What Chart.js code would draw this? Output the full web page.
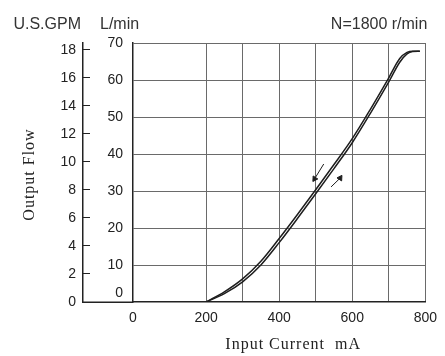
<!DOCTYPE html>
<html><head><meta charset="utf-8">
<script src="https://cdn.jsdelivr.net/npm/chart.js@4/dist/chart.umd.min.js"></script>
<style>html,body{margin:0;padding:0;background:#fff;}</style>
</head><body>
<canvas id="c" width="445" height="356"></canvas>
<script>
// ---- data ----
const currentMA      = [200, 250, 300, 350, 400, 450, 500, 550, 600, 650, 700, 730, 750, 765, 785];
const flowIncreasing = [0, 2.25, 5.45, 10.0, 16.05, 22.55, 29.25, 36.05, 43.05, 51.05, 59.5, 64.8, 67.05, 67.7, 67.8];
const flowDecreasing = [0, 2.75, 6.25, 11.0, 17.15, 23.65, 30.35, 37.15, 44.15, 52.15, 60.6, 65.8, 67.45, 67.8, 67.8];
const arrowDecX = [522, 497];
const arrowDecY = [37.3, 33.3];
const arrowIncX = [542, 567];
const arrowIncY = [31.1, 33.5];
const xLabelTicks = [0, 200, 400, 600, 800];
const xGridTicks  = [200, 300, 400, 500, 600, 700, 800];
const lpmTicks = [0, 10, 20, 30, 40, 50, 60, 70];
const gpmTicks = [0, 2, 4, 6, 8, 10, 12, 14, 16, 18];
const LPM_PER_GPM = 3.785;
const X_MIN = 0, X_MAX = 800, LPM_MAX = 70;

const pts = (xs, ys) => xs.map((x, i) => ({x, y: ys[i]}));
const AXIS = '#222', GRID = '#6a6a6a', INK = '#1e1e1e';
const sans = '"Liberation Sans", Arial, sans-serif';
const serif = '"Liberation Serif", "Times New Roman", serif';

const extras = {
  id: 'extras',
  afterDraw(chart) {
    const ctx = chart.ctx, g = chart.scales.yG, l = chart.scales.yL, xs = chart.scales.x, a = chart.chartArea;
    ctx.save();
    // extend the bottom axis under the GPM axis
    ctx.strokeStyle = AXIS; ctx.lineWidth = 1.5;
    ctx.beginPath(); ctx.moveTo(g.right, xs.top + 0.25); ctx.lineTo(a.left, xs.top + 0.25); ctx.stroke();
    // header texts
    ctx.fillStyle = '#333'; ctx.font = '16px ' + sans; ctx.textBaseline = 'middle';
    const hy = a.top - 18;
    ctx.textAlign = 'right'; ctx.fillText('U.S.GPM', g.right - 2, hy);
    ctx.textAlign = 'left';  ctx.fillText('L/min', l.left + 17, hy);
    ctx.textAlign = 'right'; ctx.fillText('N=1800 r/min', a.right + 2, hy);
    // axis titles (serif, slightly spaced like the reference)
    ctx.fillStyle = '#222'; ctx.font = '16px ' + serif; ctx.textAlign = 'center';
    try { ctx.letterSpacing = '1px'; } catch (e) {}
    ctx.fillText('Input Current  mA', (a.left + a.right) / 2 + 14, xs.bottom - 11);
    ctx.save();
    ctx.translate(30, (a.top + a.bottom) / 2 + 2);
    ctx.rotate(-Math.PI / 2);
    ctx.fillText('Output Flow', 0, 0);
    ctx.restore();
    ctx.restore();
  }
};

const lineDs = (data) => ({
  data, showLine: true, borderColor: INK, borderWidth: 1.5, pointRadius: 0,
  cubicInterpolationMode: 'monotone', fill: false, xAxisID: 'x', yAxisID: 'yL'
});
const arrowDs = (data, rot) => ({
  data, showLine: true, borderColor: INK, backgroundColor: INK, borderWidth: 1,
  pointRadius: [0, 3.2], pointStyle: 'triangle', rotation: rot, xAxisID: 'x', yAxisID: 'yL'
});

new Chart(document.getElementById('c'), {
  type: 'scatter',
  data: { datasets: [
    lineDs(pts(currentMA, flowIncreasing)),
    lineDs(pts(currentMA, flowDecreasing)),
    arrowDs(pts(arrowDecX, arrowDecY), 213),
    arrowDs(pts(arrowIncX, arrowIncY), 33)
  ]},
  options: {
    responsive: false, animation: false, devicePixelRatio: 1,
    layout: { padding: { top: 43, right: 17, bottom: 0, left: 0 } },
    plugins: { legend: { display: false }, tooltip: { enabled: false } },
    scales: {
      x: {
        type: 'linear', position: 'bottom', min: X_MIN, max: X_MAX,
        afterBuildTicks: s => { s.ticks = [...new Set([...xLabelTicks, ...xGridTicks])].sort((p, q) => p - q).map(v => ({value: v})); },
        afterFit: s => { s.height = 54; },
        ticks: { autoSkip: false, maxRotation: 0, padding: 8, color: '#222', font: { family: sans, size: 14 },
                 callback: v => xLabelTicks.includes(v) ? String(v) : '' },
        grid: { drawTicks: false, lineWidth: 1, color: c => (c.tick && xGridTicks.includes(c.tick.value)) ? GRID : 'rgba(0,0,0,0)' },
        border: { display: true, color: AXIS, width: 1.5 },
        title: { display: false }
      },
      yL: {
        type: 'linear', position: 'left', weight: 1, min: 0, max: LPM_MAX,
        afterBuildTicks: s => { s.ticks = lpmTicks.map(v => ({value: v})); },
        afterFit: s => { s.width = 50; },
        ticks: { autoSkip: false, padding: 10, color: '#222', font: { family: sans, size: 14 },
                 callback: v => v === 0 ? ['0', ''] : String(v) },
        grid: { drawTicks: false, lineWidth: 1, color: c => (c.tick && c.tick.value > 0) ? GRID : 'rgba(0,0,0,0)' },
        border: { display: true, color: AXIS, width: 1.5 }
      },
      yG: {
        type: 'linear', position: 'left', weight: 2, min: 0, max: LPM_MAX / LPM_PER_GPM,
        afterBuildTicks: s => { s.ticks = gpmTicks.map(v => ({value: v})); },
        afterFit: s => { s.width = 83; },
        ticks: { autoSkip: false, padding: 14, color: '#222', font: { family: sans, size: 14 } },
        grid: { drawOnChartArea: false, drawTicks: true, tickLength: -7, color: AXIS, lineWidth: 1 },
        border: { display: true, color: AXIS, width: 1.5 },
        title: { display: false }
      }
    }
  },
  plugins: [extras]
});
</script>
</body></html>
